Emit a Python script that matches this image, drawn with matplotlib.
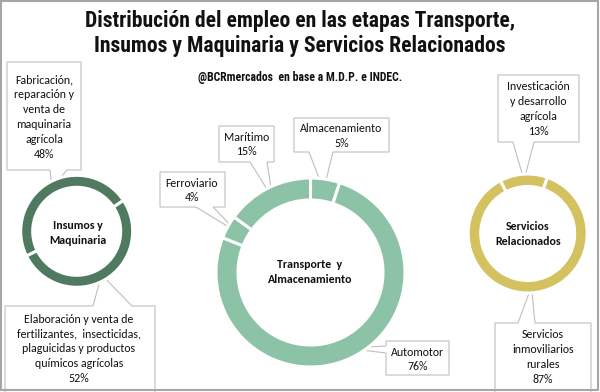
"""Donut charts: distribución del empleo por etapa (BCR)."""

import matplotlib

matplotlib.use("Agg")
import matplotlib.pyplot as plt
import numpy as np
from matplotlib.patches import Polygon, Rectangle

W, H = 600, 392

TITLE = "Distribución del empleo en las etapas Transporte,\nInsumos y Maquinaria y Servicios Relacionados"
SUBTITLE = "@BCRmercados  en base a M.D.P. e INDEC."

insumos_labels = [
    "Fabricación,\nreparación y\nventa de\nmaquinaria\nagrícola",
    "Elaboración y venta de\nfertilizantes,  insecticidas,\nplaguicidas y productos\nquímicos agrícolas",
]
insumos_values = [48, 52]

transporte_labels = ["Almacenamiento", "Automotor", "Ferroviario", "Marítimo"]
transporte_values = [5, 76, 4, 15]

servicios_labels = ["Investicación\ny desarrollo\nagrícola", "Servicios\ninmoviliarios\nrurales"]
servicios_values = [13, 87]

center_titles = ["Insumos y\nMaquinaria", "Transporte  y\nAlmacenamiento", "Servicios\nRelacionados"]

LABEL_FONT = ["Carlito", "Lato", "DejaVu Sans"]
TITLE_FONT = ["Liberation Sans Narrow", "Arial Narrow", "Roboto Condensed", "Archivo Narrow", "DejaVu Sans"]
BOX_EDGE = "#bfbfbf"

# layout in pixel coords, y measured from the top
donuts = [
    dict(c=(76.7, 231.3), r=56, w=12, start=206.2, color="#4F7A5F", txt=(78, 233)),
    dict(c=(310.5, 272.5), r=94.5, w=22, start=90, color="#8CC2A5", txt=(310, 272)),
    dict(c=(527.7, 233.5), r=59.5, w=12.5, start=117.4, color="#D4C15F", txt=(528, 234)),
]

# callout boxes: (x0, y0, x1, y1), side of pointer, pointer base, text centre
callouts = [
    [
        ((7, 62, 81, 170), "bottom", (50, 67), (44, 117)),
        ((5, 306, 155, 395), "top", (93, 132), (79, 349)),
    ],
    [
        ((294, 118, 389, 152), "bottom", (309, 333), (341.5, 136)),
        ((386, 341, 449, 375), "left", (346, 353), (417.5, 359.5)),
        ((160, 172, 225, 207), "bottom", (196, 213), (192, 190.5)),
        ((219, 126, 274, 162), "bottom", (250, 267), (246.5, 144.5)),
    ],
    [
        ((498, 75, 579, 142), "bottom", (513, 534), (538.5, 109)),
        ((495, 323, 591, 395), "top", (518, 535), (543, 357)),
    ],
]


def fy(y):
    return H - y


def callout_polygon(box, side, base, tip):
    x0, y0, x1, y1 = box
    a, b = base
    if side == "bottom":
        pts = [(x0, y0), (x1, y0), (x1, y1), (b, y1), tip, (a, y1), (x0, y1)]
    elif side == "top":
        pts = [(x0, y0), (a, y0), tip, (b, y0), (x1, y0), (x1, y1), (x0, y1)]
    else:  # left
        pts = [(x0, y0), (x1, y0), (x1, y1), (x0, y1), (x0, b), tip, (x0, a)]
    return [(x, fy(y)) for x, y in pts]


fig = plt.figure(figsize=(W / 100, H / 100), dpi=100)
ax = fig.add_axes([0, 0, 1, 1])

series = [
    (insumos_labels, insumos_values),
    (transporte_labels, transporte_values),
    (servicios_labels, servicios_values),
]

for (labels, values), d, boxes, ctitle in zip(series, donuts, callouts, center_titles):
    cx, cy = d["c"]
    wedges, _ = ax.pie(
        values,
        colors=[d["color"]] * len(values),
        startangle=d["start"],
        counterclock=False,
        radius=d["r"],
        center=(cx, fy(cy)),
        wedgeprops=dict(width=d["w"], edgecolor="white", linewidth=2.2),
    )
    for wedge, label, value, (box, side, base, tpos) in zip(wedges, labels, values, boxes):
        mid = np.deg2rad((wedge.theta1 + wedge.theta2) / 2)
        rr = d["r"] - d["w"] / 2
        tip = (cx + rr * np.cos(mid), cy - rr * np.sin(mid))
        ax.add_patch(
            Polygon(callout_polygon(box, side, base, tip), closed=True,
                    facecolor="white", edgecolor=BOX_EDGE, linewidth=0.8, zorder=0.5)
        )
        ax.text(tpos[0], fy(tpos[1]), f"{label}\n{value}%", ha="center", va="center",
                fontsize=8.6, family=LABEL_FONT, linespacing=1.44, color="#111111", zorder=3)
    ax.text(d["txt"][0], fy(d["txt"][1]), ctitle, ha="center", va="center",
            fontsize=8.6, fontweight="bold", family=LABEL_FONT, linespacing=1.4,
            color="#111111", zorder=3)

ax.text(300, fy(33.5), TITLE, ha="center", va="center", fontsize=15.6,
        fontweight="bold", family=TITLE_FONT, linespacing=1.18, color="#111111")
ax.text(300, fy(77), SUBTITLE, ha="center", va="center", fontsize=8.5,
        fontweight="bold", family=TITLE_FONT, color="#111111")

ax.add_patch(Rectangle((1, fy(390)), 597, 389, fill=False, edgecolor="#a6a6a6",
                       linewidth=1.5, zorder=5))

ax.set_xlim(0, W)
ax.set_ylim(0, H)
ax.set_aspect("auto")
ax.axis("off")

fig.savefig("out.png", dpi=100)
